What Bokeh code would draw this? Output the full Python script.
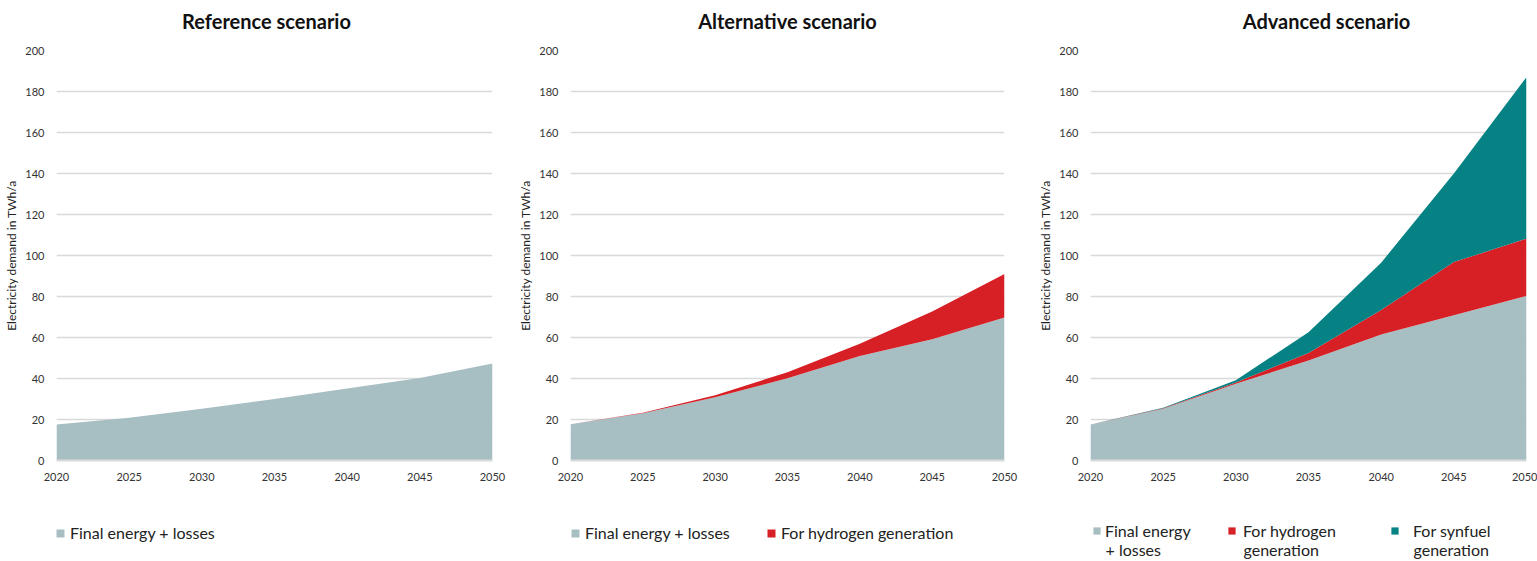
from bokeh.plotting import figure
from bokeh.layouts import row, column
from bokeh.models import Range1d, Legend, LegendItem, FixedTicker, ColumnDataSource, Label
from bokeh.embed import file_html
from bokeh.resources import INLINE

years = [2020, 2025, 2030, 2035, 2040, 2045, 2050]
y_ticks = [0, 20, 40, 60, 80, 100, 120, 140, 160, 180, 200]

ref_final = [17.6, 20.8, 25.2, 30.0, 35.1, 40.3, 47.3]

alt_final = [17.7, 23.0, 30.9, 40.1, 51.0, 59.2, 69.8]
alt_h2 = [0.0, 0.3, 0.9, 3.0, 5.9, 13.5, 21.2]

adv_final = [17.6, 25.2, 37.4, 48.8, 61.5, 70.8, 80.3]
adv_h2 = [0.0, 0.3, 0.7, 3.7, 11.9, 26.0, 27.9]
adv_syn = [0.0, 0.2, 1.0, 10.1, 23.1, 43.2, 78.8]

titles = ["Reference scenario", "Alternative scenario", "Advanced scenario"]
y_label = "Electricity demand in TWh/a"

C_FINAL = "#A7BFC2"
C_H2 = "#D71F26"
C_SYN = "#068284"
FONT = "Lato"

H_TITLE = 40
H_MAIN = 465
H_LEG = 56
LEFT = 56
WIDTHS = [514, 520, 503]
RIGHTS = [22, 30, 11]


def make_title_fig(title, width, center_x):
    t = figure(width=width, height=H_TITLE, output_backend="svg", toolbar_location=None,
               x_range=Range1d(0, 1), y_range=Range1d(0, 1),
               min_border_left=0, min_border_right=0, min_border_top=0, min_border_bottom=0)
    t.axis.visible = False
    t.grid.visible = False
    t.outline_line_color = None
    t.border_fill_color = "white"
    t.add_layout(Label(x=center_x, y=H_TITLE - 20, x_units="screen", y_units="screen",
                       text=title, text_align="center", text_baseline="middle",
                       text_font=FONT, text_font_size="20px", text_font_style="bold",
                       text_color="#111111"))
    return t


def make_fig(width, right_border):
    p = figure(width=width, height=H_MAIN, output_backend="svg", toolbar_location=None,
               x_range=Range1d(2020, 2050), y_range=Range1d(0, 200),
               min_border_left=LEFT, min_border_right=right_border,
               min_border_top=10, min_border_bottom=H_MAIN - 10 - 410)
    p.outline_line_color = None
    p.background_fill_color = "white"
    p.border_fill_color = "white"

    p.xgrid.grid_line_color = None
    p.ygrid.grid_line_color = "#D9D9D9"
    p.ygrid.grid_line_width = 1.5
    p.ygrid.ticker = FixedTicker(ticks=y_ticks)

    xa = p.xaxis[0]
    xa.ticker = FixedTicker(ticks=years)
    xa.axis_line_color = "#D9D9D9"
    xa.axis_line_width = 2
    xa.major_tick_line_color = None
    xa.minor_tick_line_color = None
    xa.major_tick_out = 0
    xa.major_tick_in = 0
    xa.minor_tick_out = 0
    xa.major_label_standoff = 12
    xa.major_label_text_font = FONT
    xa.major_label_text_font_size = "11px"
    xa.major_label_text_color = "#333333"

    ya = p.yaxis[0]
    ya.ticker = FixedTicker(ticks=y_ticks)
    ya.axis_line_color = None
    ya.major_tick_line_color = None
    ya.minor_tick_line_color = None
    ya.major_tick_out = 0
    ya.major_tick_in = 0
    ya.minor_tick_out = 0
    ya.major_label_standoff = 12
    ya.major_label_text_font = FONT
    ya.major_label_text_font_size = "11px"
    ya.major_label_text_color = "#333333"
    ya.axis_label = y_label
    ya.axis_label_text_font = FONT
    ya.axis_label_text_font_size = "12px"
    ya.axis_label_text_font_style = "normal"
    ya.axis_label_text_color = "#222222"
    ya.axis_label_standoff = 3
    return p


def make_leg_fig(width, src, names, colors):
    # the same stack, drawn far outside the visible y range, only feeds the legend
    lf = figure(width=width, height=H_LEG, output_backend="svg", toolbar_location=None,
                x_range=Range1d(2020, 2050), y_range=Range1d(1000, 1001),
                min_border_left=0, min_border_right=0, min_border_top=0, min_border_bottom=0)
    lf.axis.visible = False
    lf.grid.visible = False
    lf.outline_line_color = None
    lf.background_fill_color = "white"
    lf.border_fill_color = "white"
    rs = lf.varea_stack(stackers=names, x="year", source=src, color=colors)
    return lf, rs


def add_leg(lf, label, r, x, y, standoff=5, glyph=10, second_line=None):
    leg = Legend(items=[LegendItem(label=label, renderers=[r])],
                 location=(LEFT + x, y), orientation="horizontal",
                 background_fill_alpha=0, border_line_alpha=0,
                 padding=0, margin=0, glyph_width=glyph, glyph_height=glyph,
                 label_standoff=standoff, label_height=19,
                 label_text_font=FONT, label_text_font_size="16px",
                 label_text_color="#222222")
    lf.add_layout(leg, "center")
    if second_line:
        lf.add_layout(Label(x=LEFT + x + glyph + standoff, y=12, x_units="screen", y_units="screen",
                            text=second_line, text_align="left", text_baseline="middle",
                            text_font=FONT, text_font_size="16px", text_color="#222222"))


# titles
t1 = make_title_fig(titles[0], WIDTHS[0], 266)
t2 = make_title_fig(titles[1], WIDTHS[1], 273)
t3 = make_title_fig(titles[2], WIDTHS[2], 292)

# Reference
s1 = ColumnDataSource(dict(year=years, final=ref_final))
p1 = make_fig(WIDTHS[0], RIGHTS[0])
p1.varea_stack(stackers=["final"], x="year", source=s1, color=[C_FINAL])
l1, lr1 = make_leg_fig(WIDTHS[0], s1, ["final"], [C_FINAL])
add_leg(l1, "Final energy + losses", lr1[0], -1, 19)

# Alternative
s2 = ColumnDataSource(dict(year=years, final=alt_final, h2=alt_h2))
p2 = make_fig(WIDTHS[1], RIGHTS[1])
p2.varea_stack(stackers=["final", "h2"], x="year", source=s2, color=[C_FINAL, C_H2])
l2, lr2 = make_leg_fig(WIDTHS[1], s2, ["final", "h2"], [C_FINAL, C_H2])
add_leg(l2, "Final energy + losses", lr2[0], 0, 19)
add_leg(l2, "For hydrogen generation", lr2[1], 196, 19)

# Advanced
s3 = ColumnDataSource(dict(year=years, final=adv_final, h2=adv_h2, syn=adv_syn))
p3 = make_fig(WIDTHS[2], RIGHTS[2])
p3.varea_stack(stackers=["final", "h2", "syn"], x="year", source=s3,
               color=[C_FINAL, C_H2, C_SYN])
l3, lr3 = make_leg_fig(WIDTHS[2], s3, ["final", "h2", "syn"], [C_FINAL, C_H2, C_SYN])
add_leg(l3, "Final energy", lr3[0], 2, 21, standoff=4, glyph=9, second_line="+ losses")
add_leg(l3, "For hydrogen", lr3[1], 137, 21, standoff=7, glyph=9, second_line="generation")
add_leg(l3, "For synfuel", lr3[2], 300, 21, standoff=14, glyph=9, second_line="generation")

layout = column(row(t1, t2, t3, spacing=0),
                row(p1, p2, p3, spacing=0),
                row(l1, l2, l3, spacing=0), spacing=0)
open("out.html", "w").write(file_html(layout, INLINE))
